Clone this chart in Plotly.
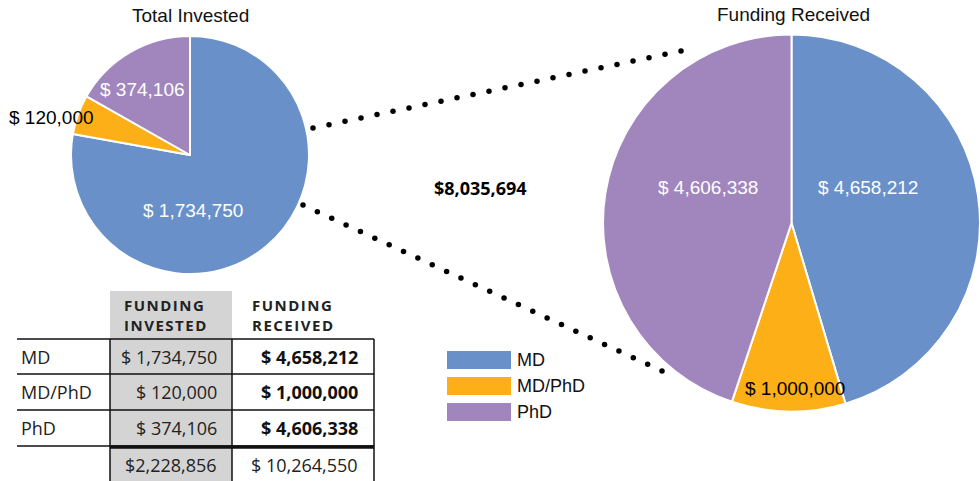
import numpy as np
import plotly.graph_objects as go

# ---------------- data ----------------
categories = ["MD", "MD/PhD", "PhD"]
invested = [1734750, 120000, 374106]
received = [4658212, 1000000, 4606338]
colors = ["#6990c9", "#fcaf17", "#a186bd"]

total_invested = sum(invested)
total_received = sum(received)
gain = total_received - total_invested

W, H = 980, 481
SANS = "Liberation Sans, Arial, sans-serif"
OPEN = "Open Sans, sans-serif"

fig = go.Figure()

# overlay axis in pixel units for decorations
fig.update_layout(
    xaxis=dict(range=[0, W], visible=False, domain=[0, 1], fixedrange=True),
    yaxis=dict(range=[H, 0], visible=False, domain=[0, 1], fixedrange=True),
)


def money(v):
    return "$ " + f"{v:,}"


# left pie: total invested
fig.add_trace(go.Pie(
    labels=categories, values=invested, sort=False, direction="clockwise", rotation=0,
    marker=dict(colors=colors, line=dict(color="white", width=2)),
    textinfo="none", automargin=False,
    domain=dict(x=[71 / W, 309 / W], y=[1 - 274 / H, 1 - 36 / H]),
    showlegend=False, hoverinfo="skip",
))

# right pie: funding received
fig.add_trace(go.Pie(
    labels=categories, values=received, sort=False, direction="clockwise", rotation=0,
    marker=dict(colors=colors, line=dict(color="white", width=2)),
    textinfo="none", automargin=False,
    domain=dict(x=[603 / W, 1.0], y=[1 - 413 / H, 1 - 33 / H]),
    showlegend=False, hoverinfo="skip",
))


# dotted connector lines
def dots(p0, p1, spacing=16):
    n = int(round(np.hypot(p1[0] - p0[0], p1[1] - p0[1]) / spacing)) + 1
    return np.linspace(p0[0], p1[0], n), np.linspace(p0[1], p1[1], n)


for p0, p1 in [((313, 128), (681, 51)), ((303, 205), (662, 371))]:
    xs, ys = dots(p0, p1)
    fig.add_trace(go.Scatter(x=xs, y=ys, mode="markers",
                             marker=dict(color="black", size=5.5),
                             showlegend=False, hoverinfo="skip"))

shapes = []
ann = []

# pie value labels (placement like the original chart)
left_label_pos = [(193, 210), (51, 117), (142, 89)]
right_label_pos = [(868, 187), (795, 388), (708, 187)]
label_colors = ["white", "black", "white"]
for vals, poss in [(invested, left_label_pos), (received, right_label_pos)]:
    for v, (px, py), c in zip(vals, poss, label_colors):
        ann.append(dict(x=px, y=py, text=money(v), showarrow=False,
                        font=dict(family=SANS, size=19, color=c)))

# titles
ann.append(dict(x=190, y=15, text="Total Invested", showarrow=False,
                font=dict(family=SANS, size=19, color="#111")))
ann.append(dict(x=793, y=14, text="Funding Received", showarrow=False,
                font=dict(family=SANS, size=19, color="#111")))
ann.append(dict(x=480, y=188, text="<b>$" + f"{gain:,}" + "</b>", showarrow=False,
                font=dict(family=OPEN, size=18, color="black")))

# legend
leg_y = [360, 386, 412]
for cat, col, yy in zip(categories, colors, leg_y):
    shapes.append(dict(type="rect", x0=447, x1=511, y0=yy - 9, y1=yy + 9,
                       fillcolor=col, line=dict(width=0), layer="above"))
    ann.append(dict(x=515, y=yy, text=cat, xanchor="left", showarrow=False,
                    font=dict(family=SANS, size=18, color="#111")))

# table
TOP, HDR, R1, R2, R3, BOT = 291, 339, 374, 410, 446, 481
XL, XA, XB, XR = 17, 110, 232, 374
shapes.append(dict(type="rect", x0=XA, x1=XB, y0=TOP, y1=BOT, fillcolor="#d4d4d4",
                   line=dict(width=0), layer="below"))
line = dict(color="#111", width=1.5)
for yy in [HDR, R1, R2, R3]:
    shapes.append(dict(type="line", x0=XL, x1=XR, y0=yy, y1=yy, line=line))
shapes.append(dict(type="line", x0=XA, x1=XR, y0=R3 + 1, y1=R3 + 1, line=dict(color="#111", width=3.5)))
for xx in [XA, XB, XR]:
    shapes.append(dict(type="line", x0=xx, x1=xx, y0=HDR, y1=BOT, line=line))

sp = "\u200a"


def spaced(s):
    return sp.join(list(s))


ann.append(dict(x=122, y=315, text="<b>" + spaced("FUNDING") + "<br>" + spaced("INVESTED") + "</b>",
                xanchor="left", showarrow=False, align="left",
                font=dict(family=OPEN, size=15, color="#222")))
ann.append(dict(x=250, y=315, text="<b>" + spaced("FUNDING") + "<br>" + spaced("RECEIVED") + "</b>",
                xanchor="left", showarrow=False, align="left",
                font=dict(family=OPEN, size=15, color="#222")))

row_y = [(HDR + R1) / 2, (R1 + R2) / 2, (R2 + R3) / 2]
for cat, inv, rec, yy in zip(categories, invested, received, row_y):
    ann.append(dict(x=19, y=yy, text=cat, xanchor="left", showarrow=False,
                    font=dict(family=OPEN, size=18, color="#222")))
    ann.append(dict(x=219, y=yy, text=money(inv), xanchor="right", showarrow=False,
                    font=dict(family=OPEN, size=18, color="#222")))
    ann.append(dict(x=360, y=yy, text="<b>" + money(rec) + "</b>", xanchor="right", showarrow=False,
                    font=dict(family=OPEN, size=18, color="#111")))
ty = (R3 + BOT) / 2 + 1
ann.append(dict(x=219, y=ty, text="$" + f"{total_invested:,}", xanchor="right", showarrow=False,
                font=dict(family=OPEN, size=18, color="#222")))
ann.append(dict(x=360, y=ty, text=money(total_received), xanchor="right", showarrow=False,
                font=dict(family=OPEN, size=18, color="#222")))

for a in ann:
    a.setdefault("xref", "x")
    a.setdefault("yref", "y")
for s in shapes:
    s.setdefault("xref", "x")
    s.setdefault("yref", "y")

fig.update_layout(
    width=W, height=H,
    margin=dict(l=0, r=0, t=0, b=0, autoexpand=False),
    paper_bgcolor="white", plot_bgcolor="rgba(0,0,0,0)",
    shapes=shapes, annotations=ann,
    showlegend=False,
)

fig.write_html("out.html", config={"displayModeBar": False},
               post_script="document.body.style.margin='0';document.body.style.overflow='hidden';")
